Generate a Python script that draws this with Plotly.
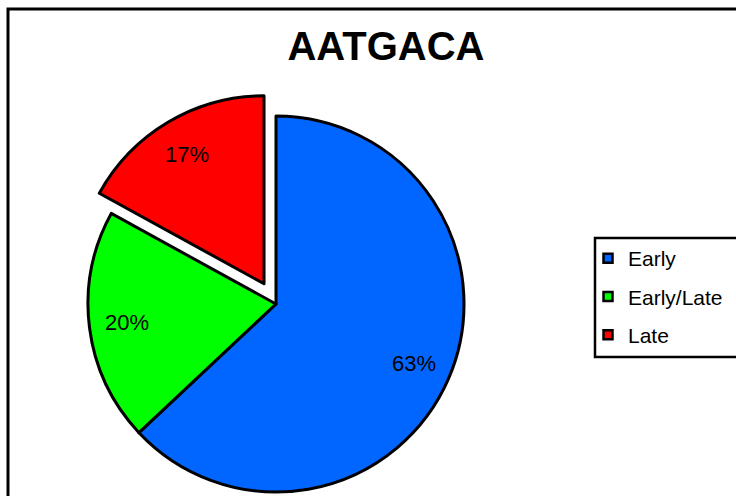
import math
import plotly.graph_objects as go

# Share of motif occurrences by expression timing
labels = ["Early", "Early/Late", "Late"]
values = [63, 20, 17]
colors = ["#0066FF", "#00FF00", "#FF0000"]
exploded = "Late"
title = "AATGACA"

W, H = 736, 496
CX, CY, R = 276, 304, 188      # pie centre (pixels from top-left) and radius
PULL = 0.125                   # fraction of radius the exploded slice moves out
LABEL_R = 0.8                  # label distance as a fraction of radius
FONT = "Liberation Sans, Arial, sans-serif"
CLEAR = "rgba(0,0,0,0)"

total = sum(values)
mids = []
start = 0.0
for v in values:
    span = 360.0 * v / total
    mids.append(start + span / 2)
    start += span

ie = labels.index(exploded)
ang = math.radians(mids[ie])
ex_cx = CX + PULL * R * math.sin(ang)
ex_cy = CY - PULL * R * math.cos(ang)


def domain(px, py):
    return dict(x=[(px - R) / W, (px + R) / W],
                y=[(H - py - R) / H, (H - py + R) / H])


main_colors = [CLEAR if l == exploded else c for l, c in zip(labels, colors)]
main_widths = [0 if l == exploded else 3 for l in labels]
ex_colors = [c if l == exploded else CLEAR for l, c in zip(labels, colors)]
ex_widths = [3 if l == exploded else 0 for l in labels]

fig = go.Figure()
for cols, widths, (px, py) in [(main_colors, main_widths, (CX, CY)),
                               (ex_colors, ex_widths, (ex_cx, ex_cy))]:
    fig.add_trace(go.Pie(
        labels=labels, values=values, sort=False, direction="clockwise",
        rotation=0, textinfo="none", hoverinfo="label+percent",
        marker=dict(colors=cols, line=dict(color="black", width=widths)),
        domain=domain(px, py), showlegend=False,
    ))

# legend entries
for i, (l, c) in enumerate(zip(labels, colors)):
    fig.add_trace(go.Scatter(
        x=[None], y=[None], mode="markers", name=l, legendgroup=str(i),
        marker=dict(symbol="square", size=9, color=c,
                    line=dict(color="black", width=2.5)),
    ))

# percentage labels along each slice bisector
annotations = []
for l, v, m in zip(labels, values, mids):
    px, py = (ex_cx, ex_cy) if l == exploded else (CX, CY)
    a = math.radians(m)
    x = px + LABEL_R * R * math.sin(a)
    y = py - LABEL_R * R * math.cos(a)
    annotations.append(dict(
        x=x / W, y=1 - y / H, xref="paper", yref="paper",
        text=f"{round(100 * v / total)}%", showarrow=False,
        font=dict(family=FONT, size=22, color="black"),
        xanchor="center", yanchor="middle",
    ))

fig.update_layout(
    width=W, height=H,
    margin=dict(l=0, r=0, t=0, b=0),
    paper_bgcolor="white", plot_bgcolor="white",
    xaxis=dict(visible=False), yaxis=dict(visible=False),
    title=dict(text=title, x=386 / W, y=1 - 46 / H, xanchor="center",
               yanchor="middle",
               font=dict(family=FONT, size=40, color="black", weight="bold")),
    legend=dict(x=588 / W, y=1 - 238 / H, xanchor="left", yanchor="top",
                bgcolor="rgba(0,0,0,0)", borderwidth=0,
                tracegroupgap=8,
                font=dict(family=FONT, size=21, color="black")),
    annotations=annotations,
    shapes=[
        # chart frame
        dict(type="rect", xref="paper", yref="paper",
             x0=8 / W, x1=1.05, y0=-0.05, y1=1 - 9 / H,
             line=dict(color="black", width=3), layer="below"),
        # legend box, running off the right edge
        dict(type="rect", xref="paper", yref="paper",
             x0=595 / W, x1=1.05, y0=1 - 357 / H, y1=1 - 238 / H,
             fillcolor="white", line=dict(color="black", width=2.5),
             layer="below"),
    ],
)

fig.write_html("out.html")
